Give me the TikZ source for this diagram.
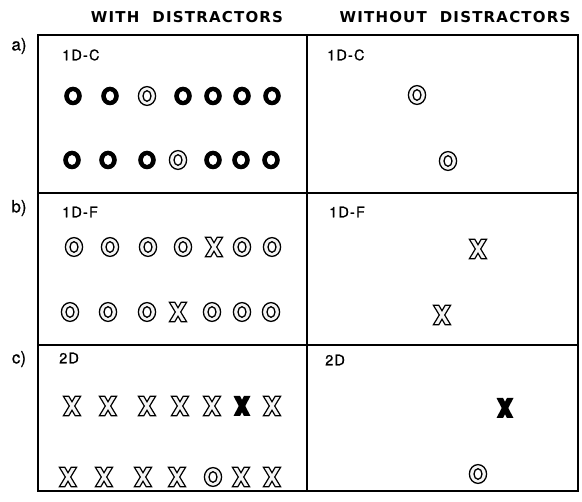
\documentclass[tikz,border=0pt]{standalone}
\usepackage{fontspec}
\setmainfont{TeX Gyre Heros}[FakeBold=0.6]
\newfontfamily\lblfont{TeX Gyre Heros}[LetterSpace=8, FakeBold=0.6]
\newfontfamily\hdrfont{DejaVu Sans}[LetterSpace=8]
\colorlet{glyphfill}{black!4}
\tikzset{
  oB/.pic={\fill[even odd rule] (0,0) ellipse [x radius=8.8pt, y radius=9.3pt] (0,0) ellipse [x radius=4.3pt, y radius=5pt];},
  oO/.pic={\draw[line width=1.3pt, fill=glyphfill, even odd rule] (0,0) ellipse [x radius=8.6pt, y radius=9.4pt]
           (0,0) ellipse [x radius=4pt, y radius=5.3pt];},
  xO/.pic={\draw[line width=1.2pt, fill=glyphfill, line join=miter]
           (-8.6,9.7)--(-3.2,9.7)--(0,4.3)--(3.2,9.7)--(8.6,9.7)--(2.7,0)--(8.6,-9.7)--(3.2,-9.7)
           --(0,-4.3)--(-3.2,-9.7)--(-8.6,-9.7)--(-2.7,0)--cycle;},
  xB/.pic={\fill (-8.5,10)--(-2,10)--(0,6.19)--(2,10)--(8.5,10)--(3.25,0)--(8.5,-10)--(2,-10)
           --(0,-6.19)--(-2,-10)--(-8.5,-10)--(-3.25,0)--cycle;},
}
\begin{document}
\begin{tikzpicture}[x=1pt,y=-1pt,
  gridline/.style={line width=2.4pt},
  hdr/.style={font=\hdrfont\fontsize{15}{15}\selectfont\bfseries, inner sep=0pt},
  rowlbl/.style={font=\fontsize{17}{17}\selectfont, inner sep=0pt},
  panlbl/.style={font=\lblfont\fontsize{14.5}{14.5}\selectfont, inner sep=0pt, anchor=west}]
\useasboundingbox (0,0) rectangle (582,502);
\fill[white] (0,0) rectangle (582,502);

% grid
\coordinate (tl) at (38,35);
\coordinate (br) at (578,491);
\draw[gridline] (tl) rectangle (br);
\draw[gridline] (307,35) coordinate (vt) -- (307,491) coordinate (vb);
\draw[gridline] (38,193) coordinate (h1l) -- (578,193) coordinate (h1r);
\draw[gridline] (38,345) coordinate (h2l) -- (578,345) coordinate (h2r);

% headers
\node[hdr] (hwith) at (187,17) {WITH\hspace{13pt}DISTRACTORS};
\node[hdr] (hwithout) at (455,17) {WITHOUT\hspace{13pt}DISTRACTORS};

% row labels
\node[rowlbl] (ra) at (19,46) {a)};
\node[rowlbl] (rb) at (19,208) {b)};
\node[rowlbl] (rc) at (19,359) {c)};

% panel labels
\node[panlbl] (pa1) at (62,55) {1D-C};
\node[panlbl] (pa2) at (327,55) {1D-C};
\node[panlbl] (pb1) at (62,212) {1D-F};
\node[panlbl] (pb2) at (329,212) {1D-F};
\node[panlbl] (pc1) at (59,358) {2D};
\node[panlbl] (pc2) at (325,360) {2D};

% a) with distractors
\foreach \x/\s in {73/oB,110/oB,147/oO,183/oB,213/oB,242/oB,272/oB}
  \pic at (\x,96) {\s};
\foreach \x/\s in {72/oB,108/oB,147/oB,178/oO,213/oB,241/oB,271/oB}
  \pic at (\x,160) {\s};
% b) with distractors
\foreach \x/\s in {74/oO,110/oO,148/oO,183/oO,214/xO,242/oO,272/oO}
  \pic at (\x,247) {\s};
\foreach \x/\s in {70/oO,108/oO,147/oO,178/xO,212/oO,242/oO,271/oO}
  \pic at (\x,312) {\s};
% c) with distractors
\foreach \x/\s in {72/xO,108/xO,147/xO,180/xO,212/xO,242/xB,272/xO}
  \pic at (\x,406) {\s};
\foreach \x/\s in {68/xO,104/xO,143/xO,177/xO,213/oO,241/xO,272/xO}
  \pic at (\x,477) {\s};

% without distractors
\pic at (417,95) {oO};
\pic at (448,161) {oO};
\pic at (478,249) {xO};
\pic at (442,315) {xO};
\pic at (505,408) {xB};
\pic at (478,474) {oO};
\end{tikzpicture}
\end{document}
